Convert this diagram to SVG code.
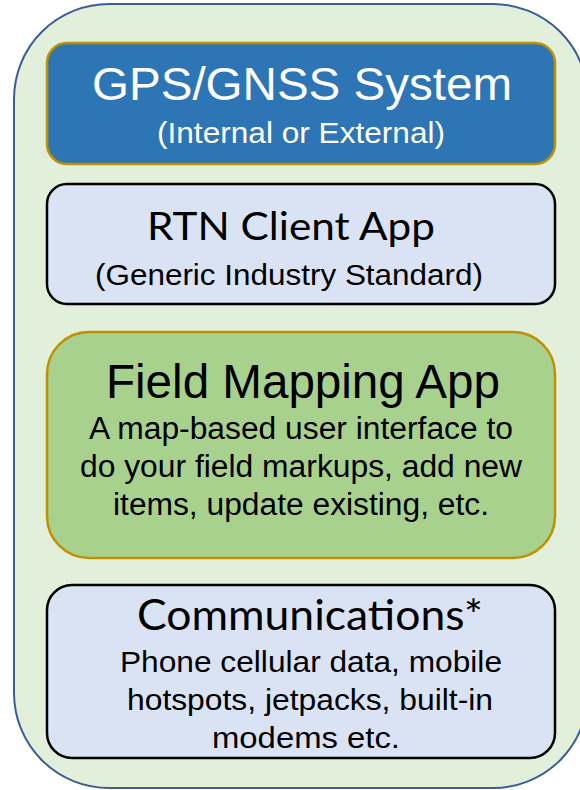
<svg xmlns="http://www.w3.org/2000/svg" width="580" height="790" viewBox="0 0 580 790">
<style>
.box{stroke-width:2.5}
.ar{font-family:"Liberation Sans",Arial,sans-serif}
.cal{font-family:Lato,"Open Sans",sans-serif}
text{fill:#000}
.w{fill:#fff}
</style>
<g id="container">
<rect x="14" y="4" width="574" height="784" rx="95" ry="95" fill="#e2efda" stroke="#3b5e98" stroke-width="2"/>
</g>
<g id="gps">
<rect class="box" x="47" y="43" width="508" height="121" rx="20" fill="#2e75b6" stroke="#bf9000"/>
<text class="ar w" x="92" y="100" font-size="47" textLength="420" lengthAdjust="spacingAndGlyphs">GPS/GNSS System</text>
<text class="ar w" x="157" y="143" font-size="30" textLength="288" lengthAdjust="spacingAndGlyphs">(Internal or External)</text>
</g>
<g id="rtn">
<rect class="box" x="47" y="184" width="508" height="120" rx="20" fill="#dae3f3" stroke="#000"/>
<text class="cal" x="147" y="240" font-size="38" textLength="288" lengthAdjust="spacingAndGlyphs">RTN Client App</text>
<text class="ar" x="95" y="285" font-size="30" textLength="388" lengthAdjust="spacingAndGlyphs">(Generic Industry Standard)</text>
</g>
<g id="field">
<rect class="box" x="47" y="332" width="508" height="226" rx="42" fill="#a9d18e" stroke="#bf9000"/>
<text class="ar" x="106" y="398" font-size="48" textLength="394" lengthAdjust="spacingAndGlyphs">Field Mapping App</text>
<text class="ar" x="89" y="439" font-size="31" textLength="424" lengthAdjust="spacingAndGlyphs">A map-based user interface to</text>
<text class="ar" x="80" y="477" font-size="31" textLength="442" lengthAdjust="spacingAndGlyphs">do your field markups, add new</text>
<text class="ar" x="113" y="515" font-size="31" textLength="376" lengthAdjust="spacingAndGlyphs">items, update existing, etc.</text>
</g>
<g id="comms">
<rect class="box" x="47" y="585" width="508" height="173" rx="25" fill="#dae3f3" stroke="#000"/>
<text class="cal" x="137" y="630" font-size="42" textLength="346" lengthAdjust="spacingAndGlyphs">Communications*</text>
<text class="ar" x="120" y="672" font-size="30" textLength="382" lengthAdjust="spacingAndGlyphs">Phone cellular data, mobile</text>
<text class="ar" x="127" y="710" font-size="30" textLength="366" lengthAdjust="spacingAndGlyphs">hotspots, jetpacks, built-in</text>
<text class="ar" x="212" y="748" font-size="30" textLength="188" lengthAdjust="spacingAndGlyphs">modems etc.</text>
</g>
<g id="connectors"/>
</svg>
